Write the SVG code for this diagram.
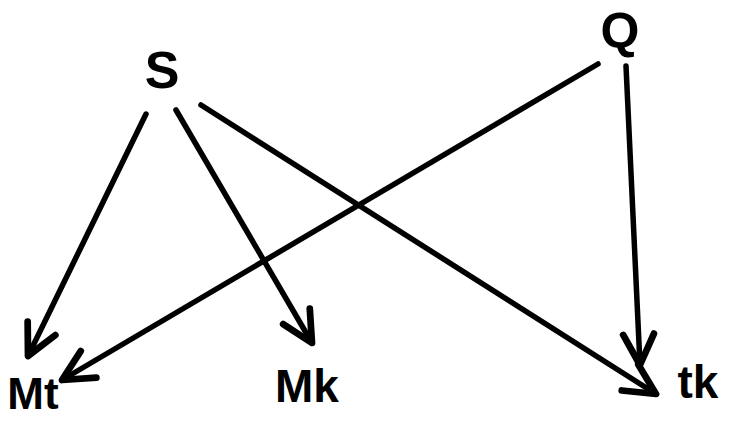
<svg xmlns="http://www.w3.org/2000/svg" width="732" height="421" viewBox="0 0 732 421">
<style>
.lbl{font-family:"Liberation Sans",Arial,sans-serif;font-weight:bold;fill:#000;text-anchor:middle}
.edge{stroke:#000;stroke-width:5.5;fill:none;stroke-linecap:round;marker-end:url(#arr)}
</style>
<defs>
<marker id="arr" viewBox="0 0 20 20" refX="18" refY="10" markerWidth="7" markerHeight="7" orient="auto" markerUnits="strokeWidth">
<path d="M2,2 L18,10 L2,18" fill="none" stroke="#000" stroke-width="3.5" stroke-linecap="round" stroke-linejoin="round"/>
</marker>
</defs>
<rect width="732" height="421" fill="#fff"/>
<g id="edges">
<line class="edge" x1="146" y1="114" x2="28" y2="356"/>
<line class="edge" x1="176" y1="110" x2="312" y2="343"/>
<line class="edge" x1="201" y1="105" x2="656" y2="394"/>
<line class="edge" x1="598" y1="64" x2="62" y2="380"/>
<line class="edge" x1="626" y1="66" x2="640" y2="365"/>
</g>
<g id="S"><text class="lbl" x="162" y="88" font-size="52">S</text></g>
<g id="Q"><text class="lbl" x="620" y="48" font-size="50">Q</text></g>
<g id="Mt"><text class="lbl" x="33" y="409" font-size="44">Mt</text></g>
<g id="Mk"><text class="lbl" x="307" y="402" font-size="46">Mk</text></g>
<g id="tk"><text class="lbl" x="698" y="398" font-size="46">tk</text></g>
</svg>
